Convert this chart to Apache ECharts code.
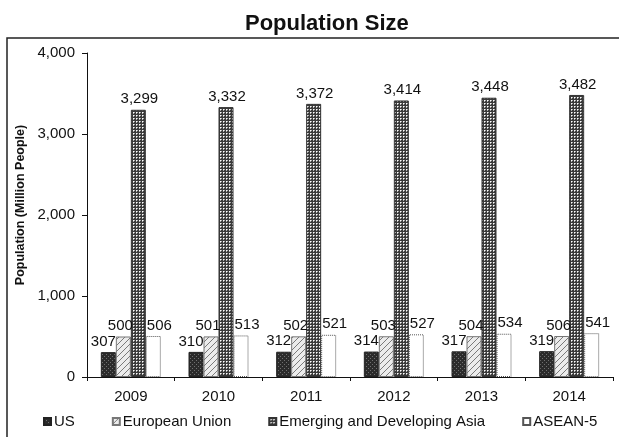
<!DOCTYPE html>
<html>
<head>
<meta charset="utf-8">
<script src="https://cdn.jsdelivr.net/npm/echarts@6/dist/echarts.min.js"></script>
<style>
  html, body { margin: 0; padding: 0; background: #fff; }
  #chart { width: 619px; height: 437px; }
</style>
</head>
<body>
<div id="chart"></div>
<script>
// Population by region, million people
const years = ['2009', '2010', '2011', '2012', '2013', '2014'];
const usValues = [307, 310, 312, 314, 317, 319];
const euValues = [500, 501, 502, 503, 504, 506];
const asiaValues = [3299, 3332, 3372, 3414, 3448, 3482];
const aseanValues = [506, 513, 521, 527, 534, 541];
const yTicks = [0, 1000, 2000, 3000, 4000];

const FONT = 'Liberation Sans, Arial, sans-serif';

// Small tiled canvases used as hatch fills for the bars
function makePattern(size, draw) {
  const c = document.createElement('canvas');
  c.width = size; c.height = size;
  const g = c.getContext('2d');
  draw(g, size);
  return { image: c, repeat: 'repeat' };
}

const usFill = makePattern(4, (g, s) => {
  g.fillStyle = '#2b2b2b'; g.fillRect(0, 0, s, s);
  g.fillStyle = '#707070';
  g.fillRect(0, 0, 1, 1); g.fillRect(2, 2, 1, 1);
});
const euFill = makePattern(6, (g, s) => {
  g.fillStyle = '#ececec'; g.fillRect(0, 0, s, s);
  g.fillStyle = '#7a7a7a';
  for (let x = 0; x < s; x++) g.fillRect(x, s - 1 - x, 1, 1);
});
const asiaFill = makePattern(3, (g, s) => {
  g.fillStyle = '#3a3a3a'; g.fillRect(0, 0, s, s);
  g.fillStyle = '#ffffff'; g.fillRect(1, 1, 1, 1);
  g.fillStyle = '#b0b0b0'; g.fillRect(2, 1, 1, 1); g.fillRect(1, 2, 1, 1);
});

const fmt = v => Number(v).toLocaleString('en-US');

function barSeries(name, data, fill, border, borderType, offsetX) {
  return {
    name: name,
    type: 'bar',
    data: data,
    barWidth: 15,
    barGap: '0%',
    itemStyle: { color: fill, borderColor: border, borderWidth: 1, borderType: borderType },
    label: {
      show: true,
      position: 'top',
      distance: 3,
      offset: [offsetX, 0],
      color: '#111',
      fontFamily: FONT,
      fontSize: 15,
      formatter: p => fmt(p.value)
    }
  };
}

const chart = echarts.init(document.getElementById('chart'), null, { renderer: 'canvas' });
chart.setOption({
  animation: false,
  backgroundColor: '#fff',
  title: {
    text: 'Population Size',
    left: 240,
    top: 8,
    textStyle: { fontFamily: FONT, fontSize: 22, fontWeight: 'bold', color: '#111' }
  },
  graphic: [{
    type: 'rect',
    shape: { x: 7, y: 38, width: 700, height: 500 },
    style: { fill: 'none', stroke: '#222', lineWidth: 1.5 },
    silent: true
  }],
  legend: {
    left: 43,
    top: 414,
    padding: 0,
    itemWidth: 7,
    itemHeight: 7,
    itemGap: 37,
    icon: 'rect',
    textStyle: { fontFamily: FONT, fontSize: 15, color: '#111', padding: [0, 0, 0, -2] },
    data: ['US', 'European Union', 'Emerging and Developing Asia', 'ASEAN-5']
  },
  grid: { left: 87, right: 6, top: 53, bottom: 60 },
  xAxis: {
    type: 'category',
    data: years,
    axisLine: { lineStyle: { color: '#111', width: 1 } },
    axisTick: { show: true, length: 4, lineStyle: { color: '#111' } },
    axisLabel: { margin: 12, color: '#111', fontFamily: FONT, fontSize: 15 }
  },
  yAxis: {
    type: 'value',
    min: yTicks[0],
    max: yTicks[yTicks.length - 1],
    interval: 1000,
    name: 'Population (Million People)',
    nameLocation: 'middle',
    nameRotate: 90,
    nameGap: 60,
    nameTextStyle: { fontFamily: FONT, fontSize: 12.5, fontWeight: 'bold', color: '#111', padding: [0, 0, 0, 20] },
    axisLine: { show: true, lineStyle: { color: '#111', width: 1 } },
    axisTick: { show: true, length: 5, lineStyle: { color: '#111' } },
    splitLine: { show: false },
    axisLabel: { margin: 12, color: '#111', fontFamily: FONT, fontSize: 15, formatter: v => fmt(v) }
  },
  series: [
    barSeries('US', usValues, usFill, '#222', 'solid', -5),
    barSeries('European Union', euValues, euFill, '#777', 'solid', -3),
    barSeries('Emerging and Developing Asia', asiaValues, asiaFill, '#333', 'solid', 1),
    barSeries('ASEAN-5', aseanValues, '#ffffff', '#555', 'dotted', 6)
  ]
});
</script>
</body>
</html>
